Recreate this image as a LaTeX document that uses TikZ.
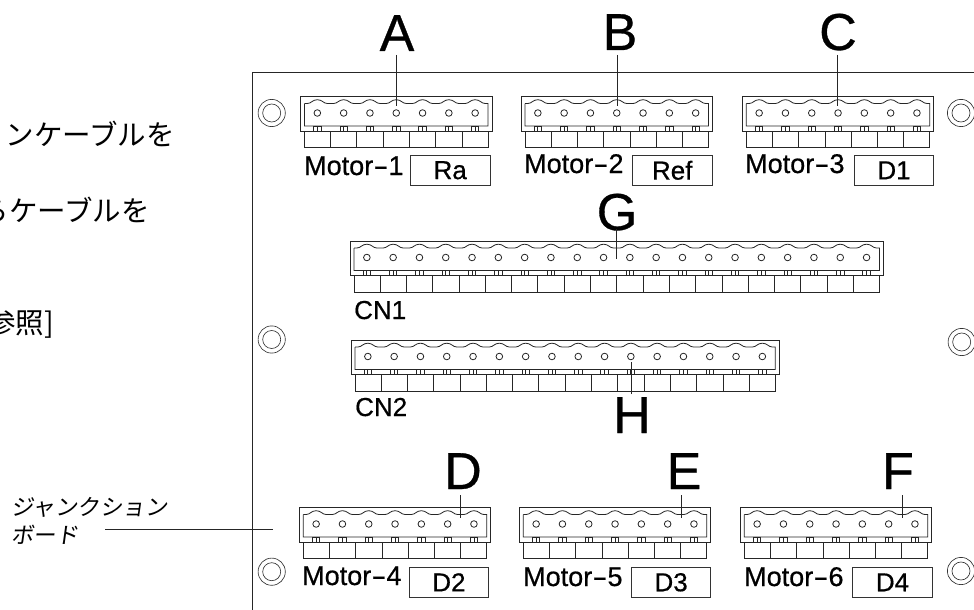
\documentclass[tikz,border=0pt]{standalone}
\usepackage{fontspec}
\setmainfont{Liberation Sans}
\newfontfamily\boldish[FakeBold=0.6]{Liberation Sans}
\newfontfamily\cjk{Noto Sans CJK JP}
\newfontfamily\cjki[FakeSlant=0.14]{Noto Sans CJK JP}
\newcommand{\hy}{\scalebox{1.7}[1]{-}}
\tikzset{
  ln/.style={draw=black!85,line width=0.95pt},
  thin ln/.style={draw=black!85,line width=0.8pt},
  big/.style={inner sep=0pt,anchor=base,font=\boldish\fontsize{52}{52}\selectfont},
  mlabel/.style={inner sep=0pt,anchor=base west,font=\boldish\fontsize{27}{27}\selectfont},
  cnlabel/.style={inner sep=0pt,anchor=base west,font=\boldish\fontsize{26}{26}\selectfont},
  tagbox/.style={draw=black!80,line width=0.85pt,inner sep=0pt,minimum width=79.5pt,minimum height=30pt,font=\boldish\fontsize{26}{26}\selectfont},
  jp/.style={inner sep=0pt,anchor=east,font=\cjk\fontsize{28.5}{28.5}\selectfont},
  jps/.style={inner sep=0pt,anchor=west,font=\cjki\fontsize{22.5}{22.5}\selectfont},
}
% #1 left, #2 top, #3 number of poles
\newcommand{\termblock}[3]{%
  \pgfmathsetmacro{\blkw}{33.7+(#3-1)*26.3}
  \draw[ln] (#1,#2) rectangle ({#1+\blkw},{#2+34.5});
  % inner outline with wavy top
  \draw[thin ln] ({#1+4},{#2+7}) -- ({#1+4},{#2+29.5}) -- ({#1+\blkw-4},{#2+29.5}) -- ({#1+\blkw-4},{#2+7})
    \foreach \i [evaluate=\i as \hx using #1+16.85+(\i-1)*26.3] in {#3,...,1}{
      -- ({\hx+10},{#2+7}) .. controls ({\hx+6},{#2+7}) and ({\hx+5},{#2+3.2}) .. ({\hx},{#2+3.2})
      .. controls ({\hx-5},{#2+3.2}) and ({\hx-6},{#2+7}) .. ({\hx-10},{#2+7})
    } -- ({#1+4},{#2+7});
  % lower boxes
  \draw[thin ln] ({#1+4},{#2+34.5}) rectangle ({#1+\blkw-4},{#2+51});
  \foreach \i in {1,...,#3}{
    \pgfmathsetmacro{\hx}{#1+16.85+(\i-1)*26.3}
    \draw[thin ln] (\hx,{#2+16.5}) circle (3.3);
    \draw[thin ln] ({\hx-3.7},{#2+29.5}) rectangle ({\hx+3.7},{#2+34.5});
    \draw[thin ln] (\hx,{#2+29.5}) -- (\hx,{#2+34.5});
    \ifnum\i<#3
      \draw[thin ln] ({\hx+13.15},{#2+34.5}) -- ({\hx+13.15},{#2+51});
    \fi
  }%
}
\newcommand{\standoff}[2]{%
  \draw[draw=black!80,line width=0.65pt] (#1,#2) circle (13.6);
  \draw[draw=black!80,line width=0.65pt] (#1,#2) circle (9);
}
\begin{document}
\begin{tikzpicture}[x=1pt,y=-1pt]
\useasboundingbox (0,0) rectangle (974,610);
\fill[white] (0,0) rectangle (974,610);
% left texts
\node[jp] (t1) at (175,134) {ンケーブルを};
\node[jp] (t2) at (150,210) {らケーブルを};
\node[jp] (t3) at (54,324) {参照]};
\node[jps] (j1) at (11,507) {ジャンクション};
\node[jps] (j2) at (11,535) {ボード};
% board
\draw[ln] (974,72) -- (252.5,72) -- (252.5,610);
% stand-offs
\standoff{271.7}{113}
\standoff{961}{113}
\standoff{271.7}{339.5}
\standoff{961.7}{342}
\standoff{271.7}{571.7}
\standoff{961}{571}
% connectors
\termblock{300.5}{96.5}{7}
\termblock{521}{96.5}{7}
\termblock{742.3}{96.5}{7}
\termblock{350}{241}{20}
\termblock{351}{340}{16}
\termblock{299.3}{507.5}{7}
\termblock{519.3}{507.5}{7}
\termblock{740.3}{507.5}{7}
% big letters
\node[big] (A) at (397,51) {A};
\node[big] (B) at (620,50) {B};
\node[big] (C) at (838,50) {C};
\node[big] (G) at (617,230) {G};
\node[big] (H) at (632,433) {H};
\node[big] (D) at (463,489) {D};
\node[big] (E) at (684,489) {E};
\node[big] (F) at (898,489) {F};
% leader ends
\coordinate (As) at (396,55); \coordinate (Ae) at (396,106);
\coordinate (Bs) at (617,55); \coordinate (Be) at (617,106);
\coordinate (Cs) at (837.7,55); \coordinate (Ce) at (837.7,106);
\coordinate (Gs) at (616.7,229); \coordinate (Ge) at (616.7,259);
\coordinate (Hs) at (631,394); \coordinate (He) at (631,362);
\coordinate (Ds) at (460,495); \coordinate (De) at (460,518);
\coordinate (Es) at (681,495); \coordinate (Ee) at (681,518);
\coordinate (Fs) at (902,495); \coordinate (Fe) at (902,518);
\coordinate (Js) at (105,529.3); \coordinate (Je) at (273,529.3);
\foreach \n in {A,B,C,G,H,D,E,F,J}{\draw[ln] (\n s) -- (\n e);}
% motor labels
\node[mlabel] (m1) at (304,175) {Motor\hy1};
\node[mlabel] (m2) at (524,173) {Motor\hy2};
\node[mlabel] (m3) at (745,173) {Motor\hy3};
\node[mlabel] (m4) at (302,585) {Motor\hy4};
\node[mlabel] (m5) at (523,586) {Motor\hy5};
\node[mlabel] (m6) at (744,586) {Motor\hy6};
\node[cnlabel] (c1) at (354,319) {CN1};
\node[cnlabel] (c2) at (355,416) {CN2};
% tags
\node[tagbox] (ra) at (450.2,170.3) {Ra};
\node[tagbox] (ref) at (672.2,170.3) {Ref};
\node[tagbox] (d1) at (894,170.3) {D1};
\node[tagbox] (d2) at (448.9,582.3) {D2};
\node[tagbox] (d3) at (671.1,582.3) {D3};
\node[tagbox] (d4) at (892.5,582.3) {D4};
\end{tikzpicture}
\end{document}
